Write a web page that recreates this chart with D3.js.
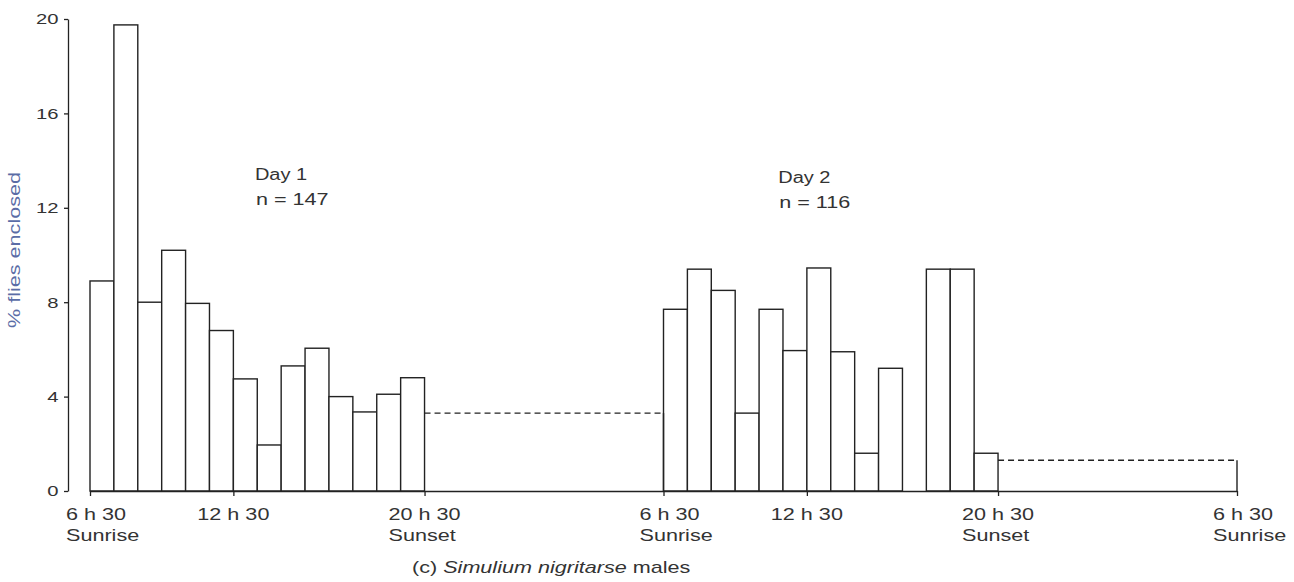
<!DOCTYPE html>
<html>
<head>
<meta charset="utf-8">
<script src="https://cdn.jsdelivr.net/npm/d3@7"></script>
<style>
  body { margin: 0; background: #fff; }
  svg { display: block; font-family: "Liberation Sans", Arial, Helvetica, sans-serif; }
  .bar { fill: #fff; stroke: #222; stroke-width: 1.4px; }
  .night { fill: none; stroke: #222; stroke-width: 1.4px; stroke-dasharray: 6 4; }
  .axis path, .axis line { stroke: #222; stroke-width: 1.3px; }
  .lbl { fill: #333; font-size: 16px; }
</style>
</head>
<body>
<svg id="chart" width="1294" height="582"></svg>
<script>
// percent of flies enclosed per hour, from 6 h 30 onward
const day1Values = [8.9, 19.75, 8.0, 10.2, 7.95, 6.8, 4.75, 1.95, 5.3, 6.05, 4.0, 3.35, 4.1, 4.8];
const day2Values = [7.7, 9.4, 8.5, 3.3, 7.7, 5.95, 9.45, 5.9, 1.6, 5.2, 0, 9.4, 9.4, 1.6];
const nightValues = [3.3, 1.3];            // overnight, 20 h 30 -> 6 h 30
const dayStarts = [0, 24];                 // hours after first sunrise
const dayNames = ['Day 1', 'Day 2'];
const dayN = [147, 116];
const timeTicks = [0, 6, 14, 24, 30, 38, 48];
const timeHours = ['6', '12', '20', '6', '12', '20', '6'];
const timeSub = ['Sunrise', '', 'Sunset', 'Sunrise', '', 'Sunset', 'Sunrise'];
const yTicks = [0, 4, 8, 12, 16, 20];

const svg = d3.select('#chart');
const stretch = 1.35;

const x = d3.scaleLinear().domain([0, 48]).range([90, 1237]);
const y = d3.scaleLinear().domain([0, 20]).range([491, 19]);

// day bars
const bars = [];
[day1Values, day2Values].forEach((vals, k) => {
    vals.forEach((v, i) => { if (v > 0) bars.push({ h: dayStarts[k] + i, v: v }); });
});

svg.selectAll('rect.bar')
    .data(bars)
    .enter()
    .append('rect')
    .attr('class', 'bar')
    .attr('x', d => x(d.h))
    .attr('width', d => x(d.h + 1) - x(d.h))
    .attr('y', d => y(d.v))
    .attr('height', d => y(0) - y(d.v));

// night periods: dashed top, solid right side
nightValues.forEach((v, k) => {
    const h0 = dayStarts[k] + 14, h1 = dayStarts[k] + 24;
    svg.append('line').attr('class', 'night')
        .attr('x1', x(h0)).attr('x2', x(h1))
        .attr('y1', y(v)).attr('y2', y(v));
    svg.append('line')
        .attr('stroke', '#222').attr('stroke-width', 1.4)
        .attr('x1', x(h1)).attr('x2', x(h1))
        .attr('y1', y(0)).attr('y2', y(v));
});

// x baseline and ticks
const xAxis = d3.axisBottom(x).tickValues(timeTicks).tickSize(5).tickSizeOuter(0).tickFormat('');
svg.append('g').attr('class', 'axis')
    .attr('transform', `translate(0,${y(0)})`)
    .call(xAxis);

// time labels, the "h" sits over the tick
const tmp = svg.append('text').attr('class', 'lbl');
const measure = s => { tmp.text(s); return tmp.node().getComputedTextLength(); };
const hw = measure('h');
timeTicks.forEach((t, i) => {
    const off = measure(timeHours[i] + ' h') - hw / 2;
    const g = svg.append('g').attr('transform', `translate(${x(t)},0) scale(${stretch},1)`);
    g.append('text').attr('class', 'lbl').attr('x', -off).attr('y', 520)
        .text(timeHours[i] + ' h 30');
    if (timeSub[i]) {
        g.append('text').attr('class', 'lbl').attr('x', -off).attr('y', 541)
            .text(timeSub[i]);
    }
});
tmp.remove();

// y axis
const yAxis = d3.axisLeft(y).tickValues(yTicks).tickSize(4).tickSizeOuter(0);
const ga = svg.append('g').attr('class', 'axis')
    .attr('transform', 'translate(68,0)')
    .call(yAxis);
ga.selectAll('text')
    .attr('x', -7)
    .attr('fill', '#333')
    .style('font-size', '15px')
    .attr('transform', `scale(${stretch},1)`);

svg.append('text')
    .attr('transform', `translate(20,250) rotate(-90) scale(${stretch},1)`)
    .attr('text-anchor', 'middle')
    .attr('fill', '#5a6ca6')
    .style('font-size', '16px')
    .text('% flies  enclosed');

// day annotations
const annot = [{ h: 6.9, y: 180 }, { h: 28.8, y: 183 }];
annot.forEach((a, k) => {
    svg.append('text').attr('class', 'lbl')
        .attr('transform', `translate(${x(a.h)},${a.y}) scale(1.25,1)`)
        .text(dayNames[k]);
    svg.append('text').attr('class', 'lbl')
        .attr('transform', `translate(${x(a.h) + 1},${a.y + 25}) scale(${stretch},1)`)
        .text('n = ' + dayN[k]);
});

// caption
const cap = svg.append('text').attr('class', 'lbl')
    .attr('transform', `translate(412,573) scale(${stretch},1)`);
cap.append('tspan').text('(c) ');
cap.append('tspan').style('font-style', 'italic').text('Simulium nigritarse');
cap.append('tspan').text(' males');
</script>
</body>
</html>
